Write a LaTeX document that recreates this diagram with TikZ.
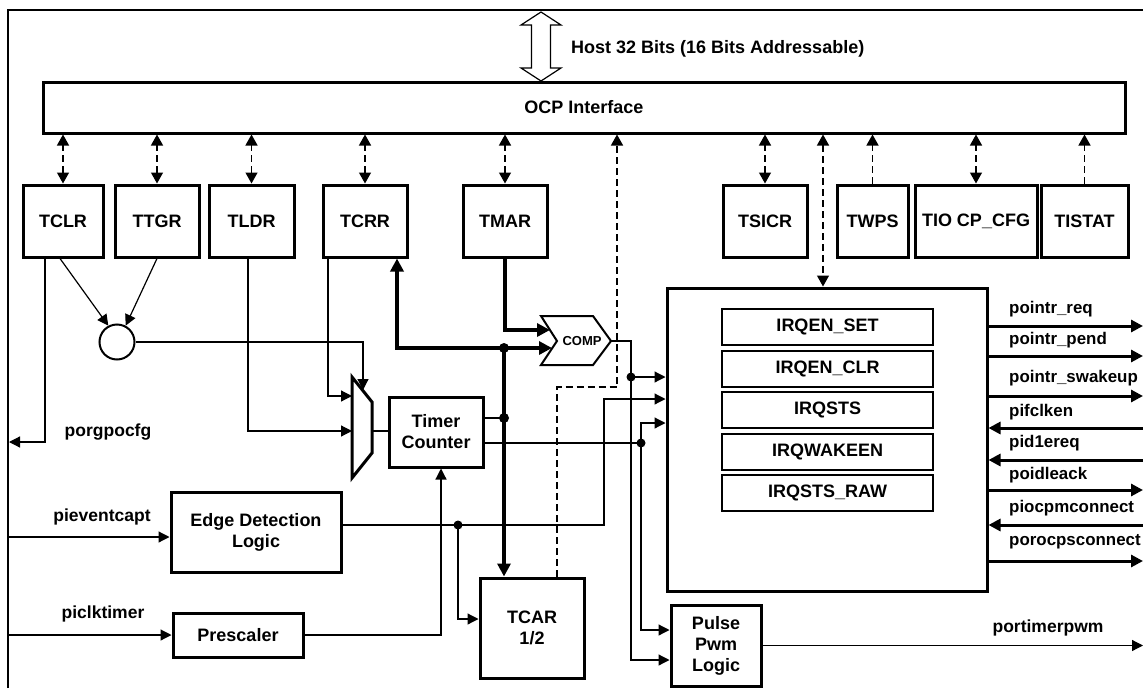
\documentclass[tikz,border=0pt]{standalone}
\usepackage{fontspec}
\setmainfont{Liberation Sans}
\usetikzlibrary{arrows.meta}
\begin{document}
\begin{tikzpicture}[x=1pt,y=-1pt,
  txt/.style={font=\bfseries\fontsize{18}{21}\selectfont},
  box/.style={draw, line width=3pt, inner sep=0pt, align=center, txt},
  reg/.style={box, minimum height=72pt},
  ibox/.style={draw, line width=2pt, inner sep=0pt, minimum width=211pt, minimum height=36pt, txt},
  lbl/.style={inner sep=0pt, font=\bfseries\fontsize{17.5}{20}\selectfont},
  rlbl/.style={inner sep=0pt, anchor=west, font=\bfseries\fontsize{16.9}{20}\selectfont},
  thinln/.style={line width=1.2pt},
  tip/.style={-{Triangle[length=11pt,width=11pt]}},
  bus/.style={line width=3.5pt},
  bustip/.style={-{Triangle[length=13pt,width=13pt]}},
  dsh/.style={line width=1.3pt, dash pattern=on 7pt off 4pt},
  dtip/.style={-{Triangle[length=11pt,width=12pt]}},
  dtips/.style={{Triangle[length=11pt,width=12pt]}-{Triangle[length=11pt,width=12pt]}},
  sig/.style={line width=3pt},
  sigr/.style={sig, -{Triangle[length=12pt,width=12pt]}},
  sigl/.style={sig, {Triangle[length=12pt,width=12pt]}-},
  dotf/.style={circle, fill, inner sep=0pt, minimum size=10pt}
]
\useasboundingbox (0,0) rectangle (1143,688);
% outer frame
\draw[line width=2pt] (8,688) -- (8,10) -- (1143,10);

% host arrow
\draw[line width=1.2pt, line join=miter] (541,12) -- (561,25) -- (550.5,25) -- (550.5,68) -- (561,68) -- (541,81) -- (521,68) -- (531.5,68) -- (531.5,25) -- (521,25) -- cycle;
\node[lbl, txt, anchor=west] (host) at (571,49) {Host 32 Bits (16 Bits Addressable)};

% OCP
\node[box, minimum width=1082pt, minimum height=51pt] (ocp) at (584,107.5) {OCP Interface};

% registers
\node[reg, minimum width=80pt] (tclr) at (63,221) {TCLR};
\node[reg, minimum width=84pt] (ttgr) at (157,221) {TTGR};
\node[reg, minimum width=85pt] (tldr) at (251.5,221) {TLDR};
\node[reg, minimum width=84pt] (tcrr) at (365,221) {TCRR};
\node[reg, minimum width=84pt] (tmar) at (505,221) {TMAR};
\node[reg, minimum width=84pt] (tsicr) at (765,221) {TSICR};
\node[reg, minimum width=71pt] (twps) at (872.5,221) {TWPS};
\node[reg, minimum width=122pt] (tiocp) at (976,221) {TIO CP\_CFG};
\node[reg, minimum width=87pt] (tistat) at (1084.5,221) {TISTAT};

% other blocks
\node[draw, circle, line width=2pt, minimum size=35pt, inner sep=0pt] (orgate) at (117,342) {};
\node[box, minimum width=94pt, minimum height=70pt] (tc) at (436,432) {Timer\\Counter};
\node[box, minimum width=170pt, minimum height=80pt] (edge) at (256,532) {Edge Detection\\Logic};
\node[box, minimum width=130pt, minimum height=44pt] (pres) at (238,635) {Prescaler};
\node[box, minimum width=104pt, minimum height=100pt] (tcar) at (532,628) {TCAR\\1/2};
\node[box, minimum width=90pt, minimum height=81pt] (pulse) at (716,645.5) {Pulse\\Pwm\\Logic};
\node[box, minimum width=320pt, minimum height=303pt] (irq) at (827,439.5) {};
\node[ibox] (i1) at (827.5,327) {IRQEN\_SET};
\node[ibox] (i2) at (827.5,368.5) {IRQEN\_CLR};
\node[ibox] (i3) at (827.5,410) {IRQSTS};
\node[ibox] (i4) at (827.5,451.5) {IRQWAKEEN};
\node[ibox] (i5) at (827.5,492.5) {IRQSTS\_RAW};

% mux
\coordinate (muxin1) at (352,396);
\coordinate (muxin2) at (352,431);
\coordinate (muxsel) at (363,390);
\coordinate (muxout) at (372,431);
\draw[line width=3pt, line join=miter] (352,377) -- (372,402) -- (372,453) -- (352,478) -- cycle;

% comparator
\draw[line width=2pt, line join=miter] (541,316) -- (593,316) -- (611,341) -- (593,365) -- (541,365) -- (557,341) -- cycle;
\node[font=\bfseries\fontsize{13}{15}\selectfont, inner sep=0pt] (comp) at (582,341) {COMP};
\coordinate (compin1) at (550,330);
\coordinate (compin2) at (552,348);
\coordinate (compout) at (611,341);

% dashed OCP links
\draw[dsh, dtips] (tclr.north) -- (tclr.north |- ocp.south);
\draw[dsh, dtips] (ttgr.north) -- (ttgr.north |- ocp.south);
\draw[dsh, dtips] (tldr.north) -- (tldr.north |- ocp.south);
\draw[dsh, dtips] (tcrr.north) -- (tcrr.north |- ocp.south);
\draw[dsh, dtips] (tmar.north) -- (tmar.north |- ocp.south);
\draw[dsh, dtips] (tsicr.north) -- (tsicr.north |- ocp.south);
\draw[dsh, dtip] (twps.north) -- (twps.north |- ocp.south);
\draw[dsh, dtips] (tiocp.north) -- (tiocp.north |- ocp.south);
\draw[dsh, dtip] (tistat.north) -- (tistat.north |- ocp.south);
\coordinate (irqbus) at (823,200);
\draw[dsh, dtips] (ocp.south -| irqbus) -- (irq.north -| irqbus);
\coordinate (dk1) at (557,387);
\coordinate (dk2) at (617,387);
\draw[dsh, dtip] (tcar.north -| dk1) -- (dk1) -- (dk2) -- (dk2 |- ocp.south);

% TCLR/TTGR to gate, porgpocfg
\draw[thinln, tip] ([xshift=-3pt]tclr.south) -- (orgate.118);
\draw[thinln, tip] (ttgr.south) -- (orgate.62);
\coordinate (pg) at (9,442);
\draw[thinln, tip] ([xshift=-18pt]tclr.south) |- (pg);
\node[lbl] (porg) at (108,432) {porgpocfg};

% to mux
\draw[thinln, tip] (orgate.east) -| (muxsel);
\draw[thinln, tip] ([xshift=-37pt]tcrr.south) |- (muxin1);
\draw[thinln, tip] ([xshift=-3.5pt]tldr.south) |- (muxin2);
\draw[thinln] (muxout) -- (tc.west |- muxout);

% bus
\coordinate (busdot1) at (504,348);
\coordinate (busdot2) at (504,418);
\draw[bus, bustip] (busdot1) -- (compin2);
\draw[bus, bustip] (busdot1) -| ([xshift=32pt]tcrr.south);
\draw[bus, bustip] (busdot1) -- (tcar.north -| busdot1);
\draw[bus, bustip] (tmar.south) |- (compin1);
\draw[thinln] ([yshift=14pt]tc.east) -- (busdot2);
\node[dotf] at (busdot1) {};
\node[dotf] at (busdot2) {};

% comp output
\coordinate (compdot) at (631,377);
\draw[thinln] (compout) -| (compdot);
\draw[thinln, tip] (compdot) -- (irq.west |- compdot);
\draw[thinln, tip] (compdot) |- ([yshift=-14.5pt]pulse.west);
\node[dotf, minimum size=9pt] at (compdot) {};

% edge detection output
\coordinate (edot) at (458,525);
\coordinate (ec2) at (604,399);
\draw[thinln, tip] (edge.east |- edot) -| (ec2) -- (irq.west |- ec2);
\draw[thinln, tip] (edot) |- ([yshift=9pt]tcar.west);
\node[dotf, minimum size=9pt] at (edot) {};

% timer counter lower output
\coordinate (tdot) at (641,443);
\coordinate (tup) at (641,423);
\draw[thinln] ([yshift=-11pt]tc.east) -- (tdot);
\draw[thinln, tip] (tdot) -- (tup) -- (irq.west |- tup);
\draw[thinln, tip] (tdot) |- ([yshift=15.5pt]pulse.west);
\node[dotf, minimum size=9pt] at (tdot) {};

% prescaler
\draw[thinln, tip] (pres.east) -| ([xshift=5pt]tc.south);

% inputs
\coordinate (pev) at (7,537);
\coordinate (pclk) at (8,635);
\draw[thinln, tip] (pev) -- (edge.west |- pev);
\draw[thinln, tip] (pclk) -- (pres.west |- pclk);
\node[lbl] (pevl) at (102,517) {pieventcapt};
\node[lbl] (pclkl) at (103,614) {piclktimer};

% pwm output
\coordinate (pwmout) at (1143,645.5);
\draw[thinln, tip] (pulse.east) -- (pwmout);
\node[lbl] (pwml) at (1048,628) {portimerpwm};

% right signals
\coordinate (r1) at (1143,326);
\coordinate (r2) at (1143,356);
\coordinate (r3) at (1143,396);
\coordinate (r4) at (1143,428);
\coordinate (r5) at (1143,460);
\coordinate (r6) at (1143,490);
\coordinate (r7) at (1143,525);
\coordinate (r8) at (1143,561);
\draw[sigr] (irq.east |- r1) -- (r1);
\draw[sigr] (irq.east |- r2) -- (r2);
\draw[sigr] (irq.east |- r3) -- (r3);
\draw[sigl] (irq.east |- r4) -- (r4);
\draw[sigl] (irq.east |- r5) -- (r5);
\draw[sigr] (irq.east |- r6) -- (r6);
\draw[sigl] (irq.east |- r7) -- (r7);
\draw[sigr] (irq.east |- r8) -- (r8);
\node[rlbl] (l1) at (1009,309) {pointr\_req};
\node[rlbl] (l2) at (1009,340) {pointr\_pend};
\node[rlbl] (l3) at (1009,378) {pointr\_swakeup};
\node[rlbl] (l4) at (1009,412) {pifclken};
\node[rlbl] (l5) at (1009,443) {pid1ereq};
\node[rlbl] (l6) at (1009,475) {poidleack};
\node[rlbl] (l7) at (1009,508) {piocpmconnect};
\node[rlbl] (l8) at (1009,542) {porocpsconnect};
\end{tikzpicture}
\end{document}
